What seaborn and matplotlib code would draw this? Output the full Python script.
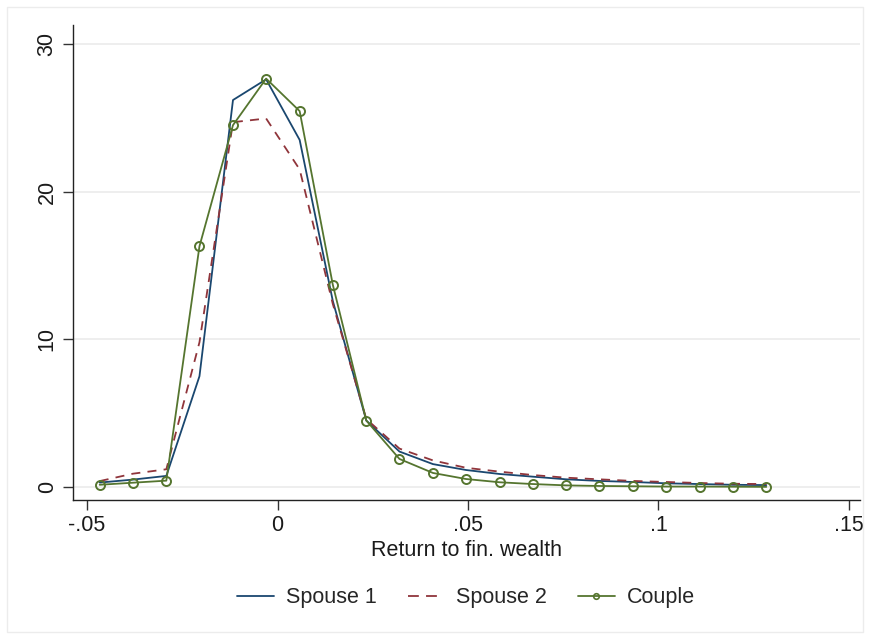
import matplotlib
matplotlib.use("Agg")
import matplotlib.pyplot as plt
import seaborn as sns
import pandas as pd
from matplotlib.patches import Rectangle
from matplotlib.lines import Line2D

# data (bin midpoints of return to fin. wealth)
x_mid = [-0.0467, -0.0380, -0.0292, -0.0205, -0.0117, -0.0030, 0.0058,
         0.0145, 0.0233, 0.0320, 0.0408, 0.0495, 0.0583, 0.0670, 0.0758,
         0.0845, 0.0933, 0.1020, 0.1108, 0.1195, 0.1283]
spouse1 = [0.3, 0.5, 0.75, 7.5, 26.2, 27.6, 23.5, 12.6, 4.5, 2.4, 1.55,
           1.15, 0.88, 0.7, 0.52, 0.41, 0.34, 0.25, 0.2, 0.15, 0.13]
spouse2 = [0.4, 0.9, 1.2, 9.8, 24.7, 24.95, 21.5, 12.4, 4.6, 2.6, 1.8,
           1.3, 1.04, 0.81, 0.63, 0.52, 0.41, 0.34, 0.27, 0.22, 0.2]
couple = [0.15, 0.29, 0.43, 16.3, 24.5, 27.65, 25.45, 13.7, 4.5, 1.9, 0.95,
          0.54, 0.32, 0.2, 0.11, 0.07, 0.05, 0.03, 0.03, 0.02, 0.01]

xticks = [-0.05, 0, 0.05, 0.1, 0.15]
xticklabels = ['-.05', '0', '.05', '.1', '.15']
yticks = [0, 10, 20, 30]
yticklabels = ['0', '10', '20', '30']

df = pd.DataFrame({'x': x_mid, 's1': spouse1, 's2': spouse2, 'c': couple})

sns.set_theme(style='white')
plt.rcParams['font.family'] = ['Liberation Sans', 'DejaVu Sans']

navy = '#1a476f'
maroon = '#90353b'
green = '#55752f'
fs = 15.5

fig = plt.figure(figsize=(8.7, 6.39), dpi=100)
ax = fig.add_axes([73/870, (639-500)/639, (860-73)/870, (500-25)/639])

# faint outer frame like the stata graph region
fig.patches.append(Rectangle((7/870, 7/639), 856/870, 625/639, transform=fig.transFigure,
                             fill=False, edgecolor='#ececec', linewidth=1))

sns.lineplot(data=df, x='x', y='s1', ax=ax, color=navy, linewidth=1.3)
sns.lineplot(data=df, x='x', y='s2', ax=ax, color=maroon, linewidth=1.3,
             linestyle=(0, (5, 4)))
sns.lineplot(data=df, x='x', y='c', ax=ax, color=green, linewidth=1.3,
             marker='o', markersize=6.5, markerfacecolor='none',
             markeredgecolor=green, markeredgewidth=1.4)

ax.set_xlim(-0.0537, 0.1529)
ax.set_ylim(-0.88, 31.28)
ax.set_xticks(xticks)
ax.set_xticklabels(xticklabels, fontsize=fs, color='#1a1a1a')
ax.set_yticks(yticks)
ax.set_yticklabels(yticklabels, fontsize=fs, color='#1a1a1a', rotation=90, va='center')
ax.tick_params(axis='both', direction='out', length=7, width=1, color='#333333',
               bottom=True, left=True, pad=4)
ax.yaxis.grid(True, color='#eaeaea', linewidth=1.1)
ax.xaxis.grid(False)
ax.set_axisbelow(True)
for side in ['top', 'right']:
    ax.spines[side].set_visible(False)
for side in ['left', 'bottom']:
    ax.spines[side].set_color('#222222')
    ax.spines[side].set_linewidth(1)

ax.set_xlabel('Return to fin. wealth', fontsize=fs, color='#1a1a1a', labelpad=3)
ax.set_ylabel('')

handles = [Line2D([], [], color=navy, linewidth=1.3),
           Line2D([], [], color=maroon, linewidth=1.3, linestyle=(0, (6, 4))),
           Line2D([], [], color=green, linewidth=1.3, marker='o', markersize=4,
                  markerfacecolor='none', markeredgewidth=1.2)]
fig.legend(handles, ['Spouse 1', 'Spouse 2', 'Couple'], loc='center',
           bbox_to_anchor=(466/870, 1 - 598/639), ncol=3, frameon=False,
           fontsize=fs, handlelength=1.7, columnspacing=1.45, handletextpad=0.55)

fig.savefig('out.png', dpi=100, facecolor='white')
